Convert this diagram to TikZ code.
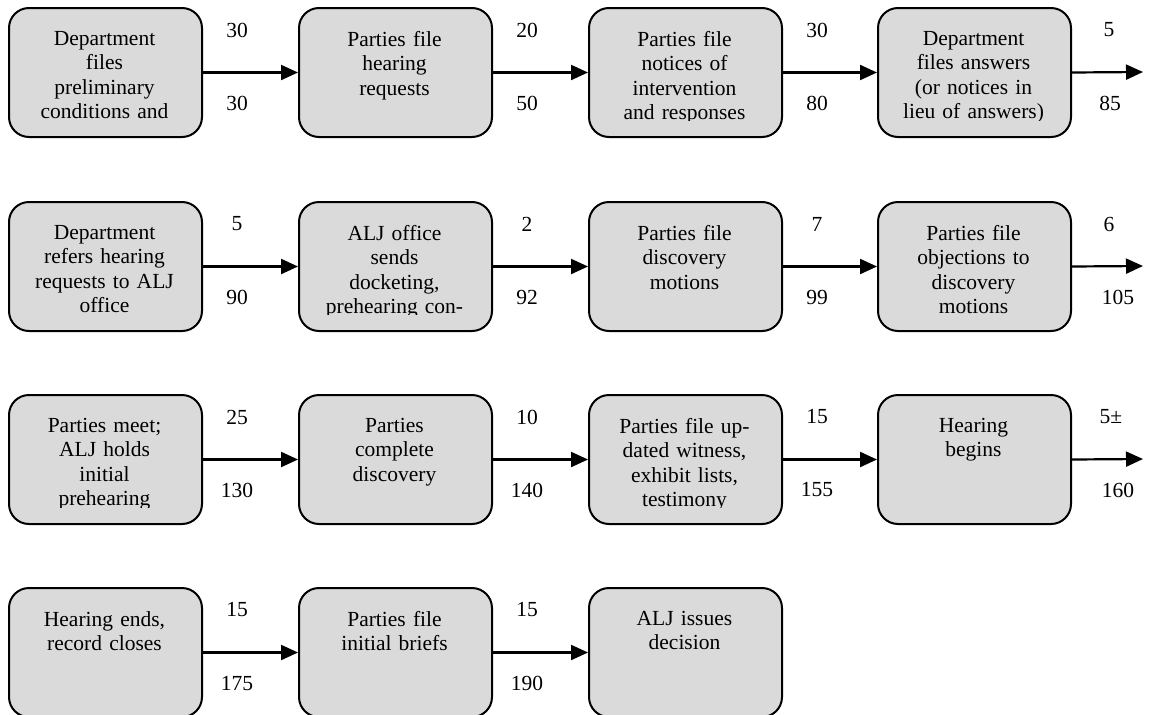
\documentclass[tikz,border=0pt]{standalone}
\usepackage{fontspec}
\setmainfont{Liberation Serif}
\usetikzlibrary{arrows.meta,calc}
\definecolor{boxgray}{RGB}{218,218,218}
\tikzset{
  stepbox/.style={draw=black, line width=2pt, fill=boxgray, rounded corners=20pt,
    minimum width=193pt, minimum height=129pt, inner sep=0pt, anchor=north west},
  boxtext/.style={anchor=north, align=center, text width=175pt, inner sep=0pt,
    font=\fontsize{21.5}{24.5}\selectfont},
  daylabel/.style={inner sep=0pt, font=\fontsize{21.5}{24}\selectfont},
  flow/.style={line width=2.2pt, -{Triangle[length=17pt,width=15pt]}}
}
\newcommand{\mkbox}[4]{% name, x, y, text
  \node[stepbox] (#1) at (#2,#3) {};
  \begin{scope}
    \clip (#2,#3) rectangle ++(193,113);
    \node[boxtext] (#1t) at ($(#2,#3)+(96.5,24)$) {#4};
  \end{scope}
}
\begin{document}
\begin{tikzpicture}[x=1pt,y=-1pt]
\useasboundingbox (0,0) rectangle (1149,715);
% row 1
\mkbox{a1}{8}{7}{Department\\files\\preliminary\\conditions and}
\mkbox{a2}{298}{7}{Parties file\\hearing\\requests}
\mkbox{a3}{588}{7}{Parties file\\notices of\\intervention\\and responses}
\mkbox{a4}{877}{7}{Department\\files answers\\(or notices in\\lieu of answers)}
% row 2
\mkbox{b1}{8}{201}{Department\\refers hearing\\requests to ALJ\\office}
\mkbox{b2}{298}{201}{ALJ office\\sends\\docketing,\\prehearing con-}
\mkbox{b3}{588}{201}{Parties file\\discovery\\motions}
\mkbox{b4}{877}{201}{Parties file\\objections to\\discovery\\motions}
% row 3
\mkbox{c1}{8}{394}{Parties meet;\\ALJ holds\\initial\\prehearing}
\mkbox{c2}{298}{394}{Parties\\complete\\discovery}
\mkbox{c3}{588}{394}{Parties file up-\\dated witness,\\exhibit lists,\\testimony}
\mkbox{c4}{877}{394}{Hearing\\begins}
% row 4
\mkbox{d1}{8}{587}{Hearing ends,\\record closes}
\mkbox{d2}{298}{587}{Parties file\\initial briefs}
\mkbox{d3}{588}{587}{ALJ issues\\decision}
% free ends
\coordinate (a5) at (1143,72);
\coordinate (b5) at (1143,266);
\coordinate (c5) at (1143,459);
% arrows
\foreach \r in {a,b,c}{
  \draw[flow] (\r1.east) -- (\r2.west);
  \draw[flow] (\r2.east) -- (\r3.west);
  \draw[flow] (\r3.east) -- (\r4.west);
}
\draw[flow] (a4.east) -- (a5);
\draw[flow] (b4.east) -- (b5);
\draw[flow] (c4.east) -- (c5);
\draw[flow] (d1.east) -- (d2.west);
\draw[flow] (d2.east) -- (d3.west);
% labels
\node[daylabel] (la1t) at (237,30) {30};  \node[daylabel] (la1b) at (237,103) {30};
\node[daylabel] (la2t) at (527,30) {20};  \node[daylabel] (la2b) at (527,103) {50};
\node[daylabel] (la3t) at (817,30) {30};  \node[daylabel] (la3b) at (817,103) {80};
\node[daylabel] (la4t) at (1109,30) {5};  \node[daylabel] (la4b) at (1110,103) {85};
\node[daylabel] (lb1t) at (237,224) {5};  \node[daylabel] (lb1b) at (237,297) {90};
\node[daylabel] (lb2t) at (527,224) {2};  \node[daylabel] (lb2b) at (527,297) {92};
\node[daylabel] (lb3t) at (817,224) {7};  \node[daylabel] (lb3b) at (817,297) {99};
\node[daylabel] (lb4t) at (1109,224) {6}; \node[daylabel] (lb4b) at (1118,297) {105};
\node[daylabel] (lc1t) at (237,417) {25}; \node[daylabel] (lc1b) at (237,490) {130};
\node[daylabel] (lc2t) at (527,417) {10}; \node[daylabel] (lc2b) at (527,490) {140};
\node[daylabel] (lc3t) at (817,417) {15}; \node[daylabel] (lc3b) at (817,490) {155};
\node[daylabel] (lc4t) at (1111,417) {5±}; \node[daylabel] (lc4b) at (1118,490) {160};
\node[daylabel] (ld1t) at (237,610) {15}; \node[daylabel] (ld1b) at (237,683) {175};
\node[daylabel] (ld2t) at (527,610) {15}; \node[daylabel] (ld2b) at (527,683) {190};
\end{tikzpicture}
\end{document}
